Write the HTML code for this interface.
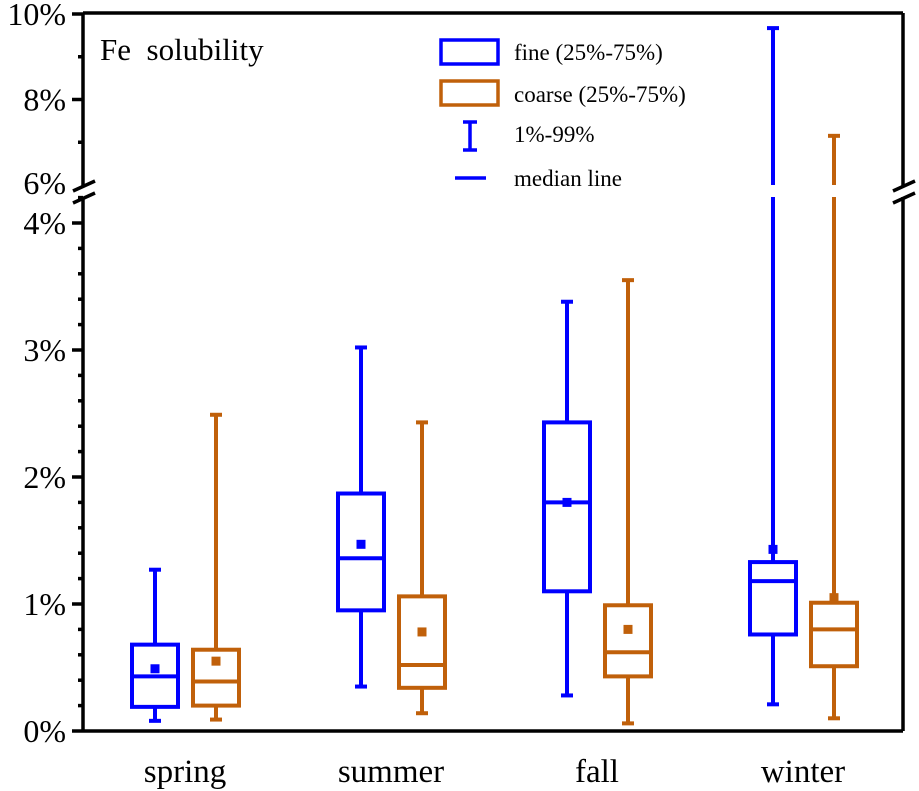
<!DOCTYPE html>
<html><head><meta charset="utf-8"><style>
html,body{margin:0;padding:0;background:#fff;}
svg{display:block;font-family:"Liberation Serif",serif;}
</style></head><body>
<svg id="chart" width="919" height="791"></svg>
<script>
const categories=["spring","summer","fall","winter"];
const fineQ1=[0.19,0.95,1.10,0.76];
const fineQ3=[0.68,1.87,2.43,1.33];
const fineMed=[0.43,1.36,1.80,1.18];
const fineMean=[0.49,1.47,1.80,1.43];
const fineLow=[0.08,0.35,0.28,0.21];
const fineHigh=[1.27,3.02,3.38,9.67];
const coarseQ1=[0.20,0.34,0.43,0.51];
const coarseQ3=[0.64,1.06,0.99,1.01];
const coarseMed=[0.39,0.52,0.62,0.80];
const coarseMean=[0.55,0.78,0.80,1.05];
const coarseLow=[0.09,0.14,0.06,0.10];
const coarseHigh=[2.49,2.43,3.55,7.15];
const lowerTicks=[0,1,2,3,4];
const upperTicks=[6,8,10];

const NS="http://www.w3.org/2000/svg";
const svg=document.getElementById("chart");
const L=83,R=903,T=13,B=731,BRK_LO=4.2,BRK_HI=6;
function y(v){
  if(v<=BRK_LO) return B-v*127;
  if(v<BRK_HI) return B-BRK_LO*127;
  return 185-(v-6)*42.75;
}
function x(i){return 185+i*206;}
function el(tag,attrs,parent){const e=document.createElementNS(NS,tag);for(const k in attrs)e.setAttribute(k,attrs[k]);(parent||svg).appendChild(e);return e;}
function txt(s,attrs){const t=el("text",attrs);t.textContent=s;return t;}

const ax=el("g",{stroke:"#000","stroke-width":3.5,fill:"none"});


el("line",{x1:L,y1:T,x2:R,y2:T},ax);
el("line",{x1:L,y1:B,x2:R,y2:B},ax);
el("line",{x1:L,y1:T,x2:L,y2:186},ax);
el("line",{x1:L,y1:197,x2:L,y2:B},ax);
el("line",{x1:R,y1:T,x2:R,y2:186},ax);
el("line",{x1:R,y1:197,x2:R,y2:B},ax);
[L,R].forEach(px=>{
  el("line",{x1:px-10,y1:191,x2:px+12,y2:181},ax);
  el("line",{x1:px-10,y1:203,x2:px+12,y2:193},ax);
});
for(let v=0;v<=4.2001;v+=0.2){const yy=y(v);const major=Math.abs(v-Math.round(v))<1e-6;el("line",{x1:major?L-11:L-5,y1:yy,x2:L,y2:yy},ax);}
[7,9].forEach(v=>el("line",{x1:L-5,y1:y(v),x2:L,y2:y(v)},ax));
upperTicks.forEach(v=>{if(v!==6)el("line",{x1:L-11,y1:y(v),x2:L,y2:y(v)},ax);});
lowerTicks.concat(upperTicks).forEach(v=>{
  const t=txt(v+"%",{x:L-17,y:y(v)+(v===6?9:11),"text-anchor":"end","font-size":32});
  
  
});
categories.forEach((c,i)=>{
  const t=txt(c,{x:x(i),y:782,"text-anchor":"middle","font-size":33});
  
  
});
const title=txt("Fe\u00a0\u00a0solubility",{x:100,y:60,"font-size":31});



function whisker(g,cx,a,b){
  const ya=y(a),yb=y(b);
  if(b>BRK_LO){
    el("line",{x1:cx,y1:ya,x2:cx,y2:197},g);
    if(b>=BRK_HI) el("line",{x1:cx,y1:185,x2:cx,y2:yb},g);
  } else el("line",{x1:cx,y1:ya,x2:cx,y2:yb},g);
}
function drawBox(i,off,color,q1,q3,med,mean,lo,hi,name){
  const cx=x(i)+off,w=46;
  const g=el("g",{stroke:color,"stroke-width":4,fill:"none"});
  
  
  whisker(g,cx,q3[i],hi[i]);
  whisker(g,cx,lo[i],q1[i]);
  el("line",{x1:cx-6,y1:y(hi[i]),x2:cx+6,y2:y(hi[i])},g);
  el("line",{x1:cx-6,y1:y(lo[i]),x2:cx+6,y2:y(lo[i])},g);
  el("rect",{x:cx-w/2,y:y(q3[i]),width:w,height:y(q1[i])-y(q3[i]),fill:"#fff"},g);
  el("line",{x1:cx-w/2,y1:y(med[i]),x2:cx+w/2,y2:y(med[i])},g);
  el("rect",{x:cx-4.5,y:y(mean[i])-4.5,width:9,height:9,fill:color,stroke:"none"},g);
}
const BLUE="#0000ff",OR="#c0600a";
categories.forEach((c,i)=>{
  drawBox(i,-30,BLUE,fineQ1,fineQ3,fineMed,fineMean,fineLow,fineHigh,"fine");
  drawBox(i,31,OR,coarseQ1,coarseQ3,coarseMed,coarseMean,coarseLow,coarseHigh,"coarse");
});
const lg=el("g",{});


el("rect",{x:441,y:40,width:57,height:24,fill:"none",stroke:BLUE,"stroke-width":3.5},lg);
el("rect",{x:441,y:81,width:57,height:24,fill:"none",stroke:OR,"stroke-width":3.5},lg);
el("line",{x1:470,y1:122,x2:470,y2:150,stroke:BLUE,"stroke-width":3.5},lg);
el("line",{x1:463,y1:122,x2:477,y2:122,stroke:BLUE,"stroke-width":3.5},lg);
el("line",{x1:463,y1:150,x2:477,y2:150,stroke:BLUE,"stroke-width":3.5},lg);
el("line",{x1:455,y1:178,x2:486,y2:178,stroke:BLUE,"stroke-width":3.5},lg);
[["fine (25%-75%)",60],["coarse (25%-75%)",102],["1%-99%",142],["median line",186]].forEach(([s,yy])=>{
  const t=el("text",{x:514,y:yy,"font-size":23},lg);t.textContent=s;
  
  
});
</script>
</body></html>
